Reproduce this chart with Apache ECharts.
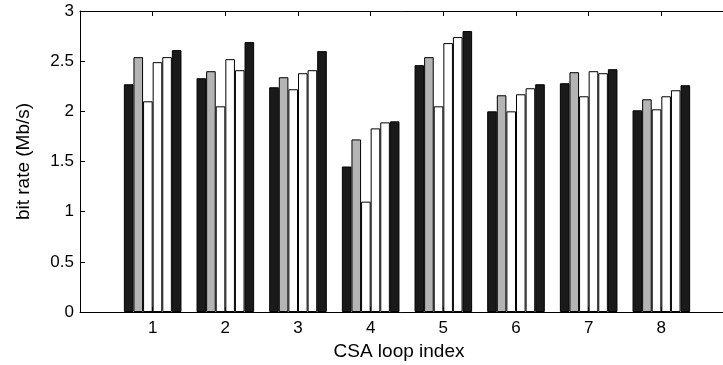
<!DOCTYPE html>
<html>
<head>
<meta charset="utf-8">
<script src="https://cdn.jsdelivr.net/npm/echarts@6/dist/echarts.min.js"></script>
<style>
  html, body { margin: 0; padding: 0; background: #fff; }
  #chart { width: 723px; height: 365px; }
</style>
</head>
<body>
<div id="chart"></div>
<script>
// loop index 1..8, padded with empty slots so the axis runs 0..9
var categories = ['1', '2', '3', '4', '5', '6', '7', '8'];
var xSlots = [''].concat(categories, ['']);

var s1 = [2.27, 2.33, 2.24, 1.45, 2.46, 2.00, 2.28, 2.01];
var s2 = [2.54, 2.40, 2.34, 1.72, 2.54, 2.16, 2.39, 2.12];
var s3 = [2.10, 2.05, 2.22, 1.10, 2.05, 2.00, 2.15, 2.02];
var s4 = [2.49, 2.52, 2.38, 1.83, 2.68, 2.17, 2.40, 2.15];
var s5 = [2.54, 2.41, 2.41, 1.89, 2.74, 2.23, 2.38, 2.21];
var s6 = [2.61, 2.69, 2.60, 1.90, 2.80, 2.27, 2.42, 2.26];

var allSeries = [s1, s2, s3, s4, s5, s6];
var fills = ['#1a1a1a', '#b4b4b4', '#ffffff', '#ffffff', '#ffffff', '#1a1a1a'];

var font = 'Liberation Sans';

function pad(arr) {
  return [null].concat(arr, [null]);
}

var chart = echarts.init(document.getElementById('chart'));

var option = {
  animation: false,
  backgroundColor: '#fff',
  // plot runs past the right edge of the picture, like the cropped original
  grid: { left: 80, width: 654, top: 11, bottom: 53, outerBoundsMode: 'none', containLabel: false },
  xAxis: [
    {
      type: 'category',
      data: xSlots,
      boundaryGap: false,
      position: 'bottom',
      axisLine: { lineStyle: { color: '#000', width: 1 } },
      axisTick: { inside: true, length: 5, lineStyle: { color: '#000' } },
      axisLabel: { color: '#000', fontFamily: font, fontSize: 17, margin: 8, interval: 0 },
      name: 'CSA loop index',
      nameLocation: 'middle',
      nameGap: 30,
      nameTextStyle: { color: '#000', fontFamily: font, fontSize: 19, padding: [0, 16, 0, 0] },
      splitLine: { show: false }
    },
    {
      type: 'category',
      data: xSlots,
      boundaryGap: false,
      position: 'top',
      axisLine: { lineStyle: { color: '#000', width: 1 } },
      axisTick: { inside: true, length: 5, lineStyle: { color: '#000' } },
      axisLabel: { show: false },
      splitLine: { show: false }
    }
  ],
  yAxis: {
    type: 'value',
    min: 0,
    max: 3,
    interval: 0.5,
    axisLine: { show: true, lineStyle: { color: '#000', width: 1 } },
    axisTick: { show: true, inside: true, length: 5, lineStyle: { color: '#000' } },
    axisLabel: { color: '#000', fontFamily: font, fontSize: 17, margin: 6 },
    splitLine: { show: false },
    name: 'bit rate (Mb/s)',
    nameLocation: 'middle',
    nameGap: 47,
    nameTextStyle: { color: '#000', fontFamily: font, fontSize: 19 }
  },
  series: allSeries.map(function (vals, i) {
    return {
      type: 'bar',
      data: pad(vals),
      barWidth: 9.6,
      barGap: '0%',
      itemStyle: { color: fills[i], borderColor: '#000', borderWidth: 1 }
    };
  })
};

chart.setOption(option);
</script>
</body>
</html>
